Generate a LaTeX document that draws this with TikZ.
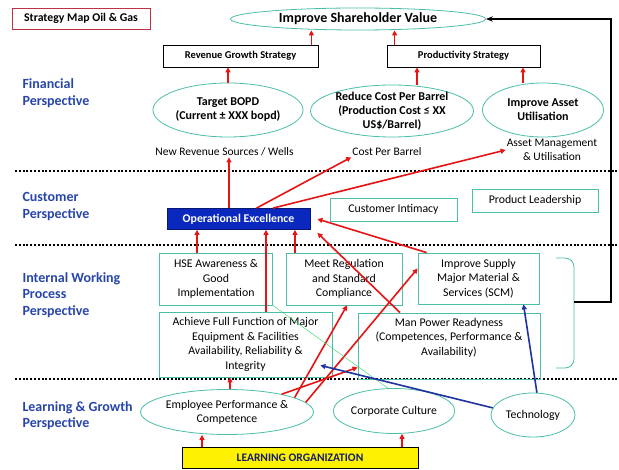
\documentclass[tikz,border=0pt]{standalone}
\usepackage{fontspec}
\setmainfont{Carlito}
\usetikzlibrary{arrows.meta,shapes.geometric}
\definecolor{smteal}{RGB}{75,190,170}
\definecolor{smred}{RGB}{230,20,20}
\definecolor{smblue}{RGB}{30,50,160}
\definecolor{smlabel}{RGB}{40,70,170}
\definecolor{smopex}{RGB}{10,40,190}
\definecolor{smframe}{RGB}{190,50,70}
\definecolor{smnavy}{RGB}{20,30,110}

\begin{document}
\begin{tikzpicture}[x=1pt, y=-1pt,
    goal/.style={draw=smteal, thick, ellipse, inner xsep=0pt, inner ysep=-3pt, align=center, font=\bfseries\fontsize{12}{14}\selectfont},
    proc/.style={draw=smteal, thick, rectangle, inner sep=1pt, align=center, font=\fontsize{11.8}{14.5}\selectfont},
    strat/.style={draw, thick, rectangle, inner sep=1pt, font=\bfseries\fontsize{10.5}{12}\selectfont},
    measure/.style={inner sep=1pt, align=center, font=\fontsize{11.5}{14}\selectfont},
    persp/.style={anchor=west, align=left, text=smlabel, font=\bfseries\fontsize{14}{16.5}\selectfont},
    redarr/.style={-{Triangle[length=5pt,width=5pt]}, smred, line width=1.6pt},
    bluearr/.style={-{Triangle[length=5pt,width=5pt]}, smblue, line width=1.6pt},
    layer/.style={line width=2pt, dash pattern=on 2pt off 1.8pt}]
    \fill[white] (0,0) rectangle (619,470);
    \useasboundingbox (0,0) rectangle (619,470);

    % title
    \node[draw=smframe, thick, minimum width=138, minimum height=21, font=\bfseries\fontsize{11.8}{12}\selectfont]
        (title) at (81,18.5) {Strategy Map Oil \& Gas};

    % perspectives
    \node[persp] (fin) at (19,93) {Financial\\Perspective};
    \node[persp] (cus) at (19,206.5) {Customer\\Perspective};
    \node[persp] (iwp) at (19,295) {Internal Working\\Process\\Perspective};
    \node[persp] (lgp) at (19,415.5) {Learning \& Growth\\Perspective};

    \draw[layer] (15,171) -- (617,171);
    \draw[layer] (15,245) -- (617,245);
    \draw[layer] (15,379) -- (617,379);

    % financial
    \node[goal, minimum width=255, minimum height=22, font=\bfseries\fontsize{14}{14}\selectfont]
        (shv) at (358,19) {Improve Shareholder Value};
    \node[strat, minimum width=155, minimum height=22] (rev) at (240.5,56) {Revenue Growth Strategy};
    \node[strat, minimum width=153, minimum height=22] (prod) at (463.5,56) {Productivity Strategy};
    \node[goal, minimum width=150, minimum height=54] (bopd) at (228,110) {Target BOPD\\(Current ± XXX bopd)};
    \node[goal, minimum width=163, minimum height=52] (cost) at (392,111)
        {Reduce Cost Per Barrel\\(Production Cost ≤ XX\\US\$/Barrel)};
    \node[goal, minimum width=121, minimum height=54] (asset) at (543,110) {Improve Asset\\Utilisation};
    \node[measure] (lrev) at (224.5,152) {New Revenue Sources / Wells};
    \node[measure] (lcost) at (387,152) {Cost Per Barrel};
    \node[measure] (lasset) at (552,150) {Asset Management\\\& Utilisation};

    % customer
    \node[draw=smopex!60!black, thick, fill=smopex, text=white, minimum width=143, minimum height=21,
        font=\bfseries\fontsize{11.8}{12}\selectfont] (opex) at (238.5,219) {Operational Excellence};
    \node[proc, minimum width=127, minimum height=23] (cint) at (393.5,209.5) {Customer Intimacy};
    \node[proc, minimum width=126, minimum height=23] (pldr) at (535,200.5) {Product Leadership};

    % internal process
    \node[proc, minimum width=113, minimum height=52] (hse) at (216,279) {HSE Awareness \&\\Good\\Implementation};
    \node[proc, minimum width=116, minimum height=52] (reg) at (344,279) {Meet Regulation\\and Standard\\Compliance};
    \node[proc, minimum width=121, minimum height=51] (scm) at (478.5,278.5) {Improve Supply\\Major Material \&\\Services (SCM)};
    \node[proc, minimum width=173, minimum height=65] (ach) at (245.5,344.5)
        {Achieve Full Function of Major\\Equipment \& Facilities\\Availability, Reliability \&\\Integrity};
    \node[proc, minimum width=182, minimum height=66] (man) at (449,346)
        {Man Power Readyness\\(Competences, Performance \&\\Availability)\\[4pt]};
    \draw[smteal, thick, rounded corners=9pt] (556,258) -- (574,258) -- (574,368) -- (556,368);
    \coordinate (brc) at (574,302);
    \coordinate (rt) at (611,302);

    % learning & growth
    \node[goal, font=\fontsize{11.8}{14}\selectfont, minimum width=166, minimum height=45] (emp) at (227,412)
        {Employee Performance \&\\Competence};
    \node[goal, font=\fontsize{11.8}{14}\selectfont, minimum width=92, minimum height=45] (cult) at (394,411) {Corporate Culture};
    \node[goal, font=\fontsize{11.8}{14}\selectfont, minimum width=84, minimum height=44] (tech) at (533,415) {Technology};
    \node[draw, thick, fill=yellow, text=smnavy, minimum width=236, minimum height=21,
        font=\bfseries\fontsize{11.5}{12}\selectfont] (lorg) at (300,457.5) {LEARNING ORGANIZATION};

    % links
    \draw[redarr] ([xshift=-7pt]rev.north east) -- ([xshift=-7pt]rev.north east |- shv.south);
    \draw[redarr] ([xshift=8pt]prod.north west) -- ([xshift=8pt]prod.north west |- shv.south);
    \draw[redarr] (bopd.north) -- (bopd.north |- rev.south);
    \draw[redarr] ([xshift=25pt]cost.north) -- ([xshift=25pt]cost.north |- prod.south);
    \draw[redarr] ([xshift=-20pt]asset.north) -- ([xshift=-20pt]asset.north |- prod.south);
    \draw[-{Stealth[length=7pt]}, line width=1.8pt] (brc) -- (rt) |- (shv.east);

    \draw[redarr] ([xshift=-9.5pt]opex.north) -- ([xshift=-9.5pt]opex.north |- lrev.south);
    \draw[redarr] ([xshift=18pt]opex.north) -- (lcost.south west);
    \draw[redarr] ([xshift=34.5pt]opex.north) -- (lasset.west);

    \draw[redarr] ([xshift=-19pt]hse.north) -- ([xshift=-19pt]hse.north |- opex.south);
    \draw[redarr] ([xshift=20.5pt]ach.north) -- ([xshift=20.5pt]ach.north |- opex.south);
    \draw[redarr] ([xshift=-49pt]reg.north) -- ([xshift=-49pt]reg.north |- opex.south);
    \draw[redarr] ([xshift=9pt]scm.north west) -- ([xshift=7pt]opex.east);
    \draw[redarr] ([xshift=-49pt]man.north) -- ([shift={(7,3)}]opex.south east);

    \draw[redarr] (emp.18) -- ([yshift=12pt]man.south west);
    \draw[redarr] (emp.12) -- ([xshift=3pt]reg.south);
    \draw[redarr] (emp.7) -- ([yshift=10pt]scm.west);
    \draw[smteal!60!green, thin] (cult.105) -- (hse.south east);
    \draw[bluearr] (tech.80) -- ([xshift=45pt]scm.south);
    \draw[bluearr] (tech.170) -- ([xshift=-12pt,yshift=12pt]ach.south east);

    \draw[redarr] ([xshift=3pt]emp.north) -- ([xshift=3pt]emp.north |- ach.south);
    \draw[redarr] ([xshift=-98pt]lorg.north) -- ([xshift=-98pt]lorg.north |- emp.south);
    \draw[redarr] ([xshift=102pt]lorg.north) -- ([xshift=102pt]lorg.north |- cult.south);
\end{tikzpicture}
\end{document}
